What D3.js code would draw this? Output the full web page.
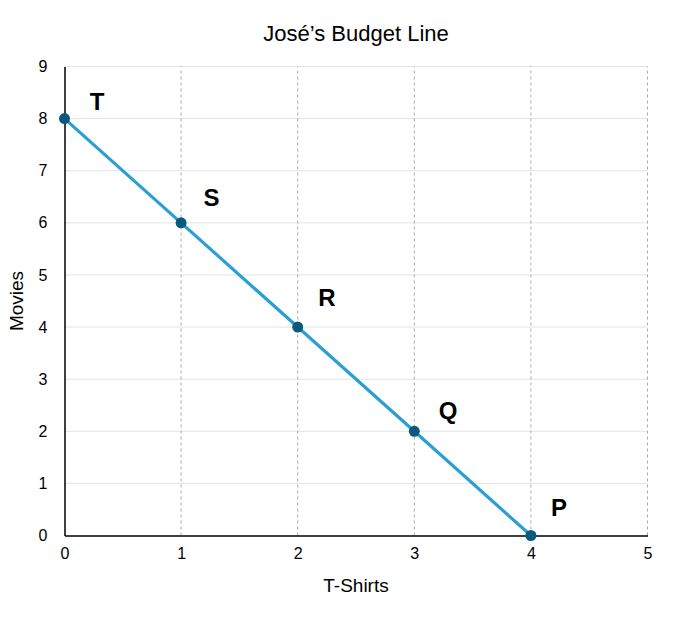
<!DOCTYPE html>
<html>
<head>
<meta charset="utf-8">
<script src="https://cdn.jsdelivr.net/npm/d3@7"></script>
<style>
  body { margin: 0; background: #fff; }
  svg text { font-family: "Liberation Sans", Arial, Helvetica, sans-serif; }
</style>
</head>
<body>
<svg id="chart" width="700" height="619"></svg>
<script>
const tShirts = [0, 1, 2, 3, 4];
const movies = [8, 6, 4, 2, 0];
const pointLabels = ["T", "S", "R", "Q", "P"];
const labelX = [0.28, 1.26, 2.25, 3.29, 4.24];
const labelY = [8.33, 6.49, 4.57, 2.40, 0.54];
const xTicks = [0, 1, 2, 3, 4, 5];
const yTicks = [0, 1, 2, 3, 4, 5, 6, 7, 8, 9];

const svg = d3.select("#chart");
const x = d3.scaleLinear().domain([0, 5]).range([64.5, 647.5]);
const y = d3.scaleLinear().domain([0, 9]).range([535.5, 66.5]);

// horizontal grid
svg.append("g").selectAll("line").data(yTicks.filter(d => d > 0)).join("line")
  .attr("x1", x(0)).attr("x2", x(5))
  .attr("y1", d => y(d)).attr("y2", d => y(d))
  .attr("stroke", "#e3e3e3").attr("stroke-width", 1);

// vertical dashed grid
svg.append("g").selectAll("line").data(xTicks.filter(d => d > 0)).join("line")
  .attr("x1", d => x(d)).attr("x2", d => x(d))
  .attr("y1", y(0)).attr("y2", y(9))
  .attr("stroke", "#aaaaaa").attr("stroke-width", 1)
  .attr("stroke-dasharray", "3,3");

// axes
const xAxis = svg.append("g").attr("transform", `translate(0,${y(0)})`)
  .call(d3.axisBottom(x).tickValues(xTicks).tickSize(0).tickPadding(12).tickFormat(d3.format("d")));
const yAxis = svg.append("g").attr("transform", `translate(${x(0)},0)`)
  .call(d3.axisLeft(y).tickValues(yTicks).tickSize(0).tickPadding(17).tickFormat(d3.format("d")));
[xAxis, yAxis].forEach(a => {
  a.attr("font-size", 16);
  a.select(".domain").attr("stroke", "#000").attr("stroke-width", 1.5);
  a.selectAll("text").attr("font-size", 16).attr("fill", "#000")
    .style("font-family", '"Liberation Sans", Arial, sans-serif');
});

// line
const pts = tShirts.map((d, i) => [d, movies[i]]);
svg.append("path").datum(pts)
  .attr("d", d3.line().x(d => x(d[0])).y(d => y(d[1])))
  .attr("fill", "none").attr("stroke", "#2a9fd4").attr("stroke-width", 3.2);

// points
svg.append("g").selectAll("circle").data(pts).join("circle")
  .attr("cx", d => x(d[0])).attr("cy", d => y(d[1])).attr("r", 5.5)
  .attr("fill", "#0b5a7e");

// point labels
svg.append("g").selectAll("text").data(pointLabels).join("text")
  .attr("x", (d, i) => x(labelX[i])).attr("y", (d, i) => y(labelY[i]))
  .attr("text-anchor", "middle").attr("dominant-baseline", "central")
  .attr("font-size", 24).attr("font-weight", "bold").attr("fill", "#000")
  .text(d => d);

// title
svg.append("text").attr("x", 356).attr("y", 41).attr("text-anchor", "middle")
  .attr("font-size", 22).attr("fill", "#000").text("José’s Budget Line");

// axis titles
svg.append("text").attr("x", 356).attr("y", 592).attr("text-anchor", "middle")
  .attr("font-size", 19).attr("fill", "#000").text("T-Shirts");
svg.append("text").attr("transform", "translate(23,301) rotate(-90)")
  .attr("text-anchor", "middle").attr("font-size", 19).attr("fill", "#000").text("Movies");
</script>
</body>
</html>
